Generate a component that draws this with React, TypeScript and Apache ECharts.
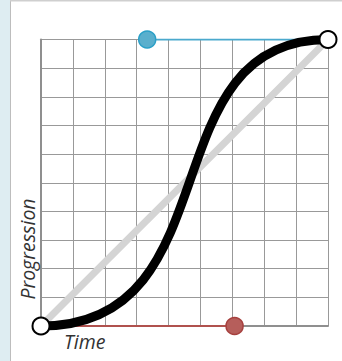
import React, { useEffect, useRef } from "react";
import * as echarts from "echarts";

// Axis ranges (grid cells)
const xMax = 9;
const yMax = 10;

// Bezier points (in grid units)
const startPoint = [0, 0];
const endPoint = [9, 10];
const controlStart = [6.07, 0]; // red handle, attached to start
const controlEnd = [3.33, 10]; // blue handle, attached to end

const xTitle = "Time";
const yTitle = "Progression";

export default function App() {
  const ref = useRef<HTMLDivElement>(null);
  useEffect(() => {
    const chart = echarts.init(ref.current!, null, { renderer: "svg" });
    chart.setOption({
      animation: false,
      backgroundColor: "#ffffff",
      grid: { left: 41, right: 14, top: 39.5, bottom: 35, containLabel: false },
      xAxis: {
        type: "value",
        min: 0,
        max: xMax,
        interval: 1,
        axisLabel: { show: false },
        axisTick: { show: false },
        axisLine: { show: true, onZero: false, lineStyle: { color: "#8f8f8f", width: 2 } },
        splitLine: { show: true, lineStyle: { color: "#999", width: 1 } },
      },
      yAxis: {
        type: "value",
        min: 0,
        max: yMax,
        interval: 1,
        axisLabel: { show: false },
        axisTick: { show: false },
        axisLine: { show: true, onZero: false, lineStyle: { color: "#8f8f8f", width: 2 } },
        splitLine: { show: true, lineStyle: { color: "#999", width: 1 } },
      },
      graphic: [
        { type: "rect", shape: { x: 0, y: 0, width: 10, height: 361 }, style: { fill: "#deedf2" }, silent: true },
        { type: "line", shape: { x1: 10.5, y1: 0, x2: 10.5, y2: 361 }, style: { stroke: "#bdbdbd", lineWidth: 1 }, silent: true },
        { type: "line", shape: { x1: 10, y1: 0.5, x2: 342, y2: 0.5 }, style: { stroke: "#cfcfcf", lineWidth: 2 }, silent: true },
        {
          type: "text",
          x: 64,
          y: 341,
          style: {
            text: xTitle,
            font: "italic 19.5px 'Open Sans'",
            fill: "#333",
            align: "left",
            verticalAlign: "middle",
          },
          z: 100,
        },
        {
          type: "text",
          x: 27,
          y: 249,
          rotation: Math.PI / 2,
          style: {
            text: yTitle,
            font: "italic 19.5px 'Open Sans'",
            fill: "#333",
            align: "center",
            verticalAlign: "middle",
          },
          z: 100,
        },
      ],
      series: [
        {
          type: "line",
          data: [startPoint, endPoint],
          symbol: "none",
          lineStyle: { color: "#d4d4d4", width: 7 },
          z: 2,
        },
        {
          type: "line",
          data: [controlEnd, endPoint],
          symbol: "none",
          lineStyle: { color: "#4aa9cd", width: 2 },
          z: 3,
        },
        {
          type: "line",
          data: [startPoint, controlStart],
          symbol: "none",
          lineStyle: { color: "#b0514e", width: 2 },
          z: 3,
        },
        {
          type: "custom",
          z: 4,
          data: [[...startPoint, ...controlStart, ...controlEnd, ...endPoint]],
          encode: { x: [0, 2, 4, 6], y: [1, 3, 5, 7] },
          renderItem: (params: any, api: any) => {
            const p0 = api.coord([api.value(0), api.value(1)]);
            const p1 = api.coord([api.value(2), api.value(3)]);
            const p2 = api.coord([api.value(4), api.value(5)]);
            const p3 = api.coord([api.value(6), api.value(7)]);
            return {
              type: "bezierCurve",
              shape: {
                x1: p0[0], y1: p0[1],
                cpx1: p1[0], cpy1: p1[1],
                cpx2: p2[0], cpy2: p2[1],
                x2: p3[0], y2: p3[1],
              },
              style: { stroke: "#000", lineWidth: 9, fill: "none" },
            };
          },
        },
        {
          type: "scatter",
          z: 5,
          symbolSize: 17,
          data: [
            { value: controlEnd, itemStyle: { color: "#5aafcd", borderColor: "#2a9fc7", borderWidth: 1.5, opacity: 1 } },
            { value: controlStart, itemStyle: { color: "#b65e5b", borderColor: "#a6403e", borderWidth: 1.5, opacity: 1 } },
            { value: startPoint, itemStyle: { color: "#fff", borderColor: "#000", borderWidth: 2, opacity: 1 } },
            { value: endPoint, itemStyle: { color: "#fff", borderColor: "#000", borderWidth: 2, opacity: 1 } },
          ],
        },
      ],
    });
    return () => chart.dispose();
  }, []);
  return (
    <div
      ref={ref}
      style={{ position: "fixed", left: 0, top: 0, width: 342, height: 361 }}
    />
  );
}
